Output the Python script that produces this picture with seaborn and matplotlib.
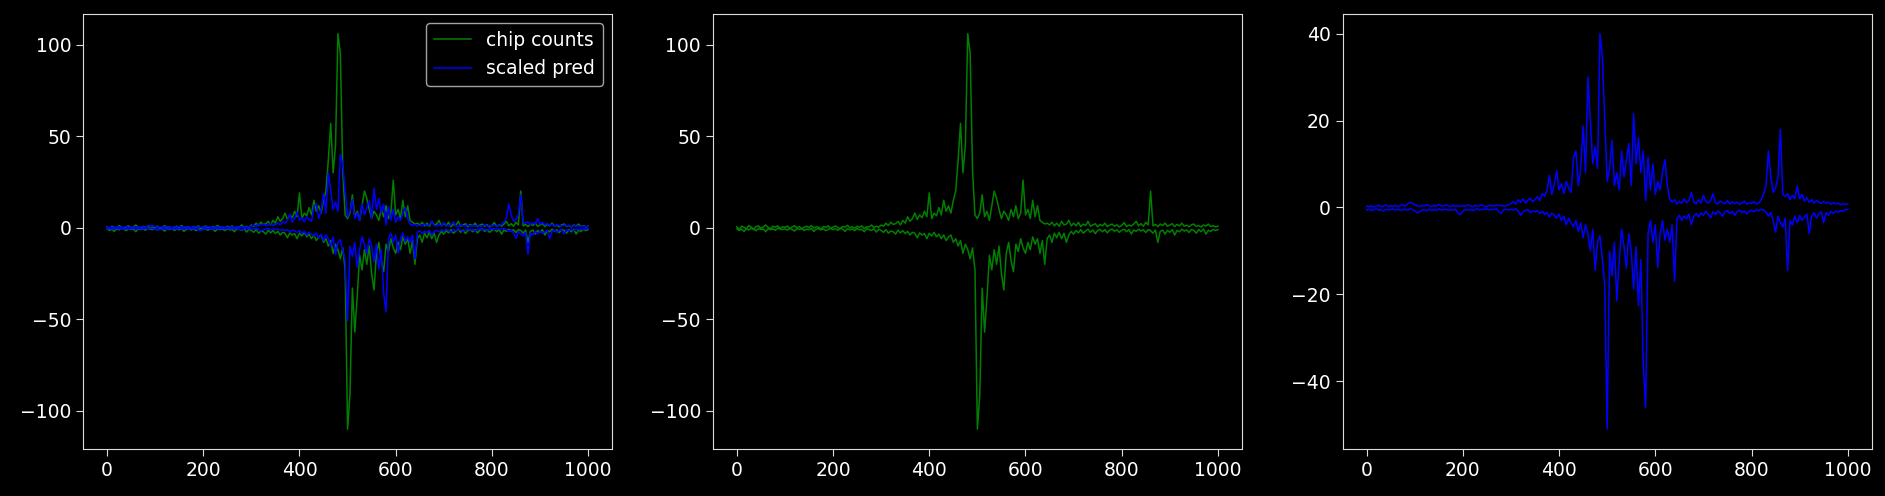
import numpy as np
import pandas as pd
import seaborn as sns
from matplotlib import pyplot as plt

# amostras a cada 5 posicoes (0..1000)
posicao = np.arange(0, 1001, 5)

# contagem dos chips: ramo positivo e ramo negativo
chip_alto = [
    0.5, -1.0, 0.8, 0.2, -0.5, 1.2, 0.3, -0.8, 0.6, 1.0, -0.3, 0.4, 1.5, 0.2, -0.6, 0.8, 0.3, 1.0, -0.4, 0.5,
    0.2, 0.9, -0.5, 0.4, 1.1, 0.0, 0.6, -0.7, 0.3, 0.8, 0.1, 1.2, -0.2, 0.5, 0.3, -0.8, 0.7, 0.2, 1.0, -0.4,
    0.4, 0.9, 0.1, -0.6, 0.7, 0.3, 1.3, 0.0, 0.5, -0.3, 0.8, 0.2, 1.0, -0.5, 0.6, 0.4, 1.5, 0.1, 0.8, 0.3,
    1.5, 0.8, 2.5, 1.2, 3.0, 1.8, 2.2, 3.5, 1.5, 4.0, 2.5, 6.0, 3.5, 5.0, 8.0, 4.5, 7.0, 5.5, 9.0, 6.0,
    19.0, 5.0, 8.0, 6.5, 11.0, 7.0, 15.0, 9.0, 12.0, 8.0, 15.0, 20.0, 37.0, 57.0, 30.0, 45.0, 106.0, 95.0, 31.0, 7.0,
    5.0, 8.0, 18.0, 6.0, 9.0, 4.0, 12.0, 20.0, 16.0, 10.0, 5.0, 9.0, 7.0, 4.0, 10.0, 6.0, 12.0, 5.0, 8.0, 26.0,
    7.0, 10.0, 5.0, 15.0, 6.0, 12.0, 4.0, 3.0, 2.0, 2.5, 1.5, 3.0, 1.0, 2.5, 0.8, 3.5, 1.5, 2.0, 4.0, 1.0,
    2.5, 1.0, 3.0, 0.5, 2.0, 1.2, 3.5, 0.8, 1.5, 2.2, 0.5, 1.8, 1.0, 2.5, 0.6, 1.4, 2.0, 0.8, 1.6, 0.4,
    1.2, 2.8, 0.6, 1.5, 0.9, 2.0, 3.5, 1.0, 2.2, 0.8, 3.0, 1.5, 20.0, 1.0, 1.8, 0.6, 2.0, 1.2, 2.5, 0.8,
    1.5, 2.2, 0.6, 1.8, 1.0, 2.5, 0.8, 1.4, 0.5, 1.6, 2.0, 0.7, 1.2, 0.4, 1.5, 0.9, 2.0, 0.6, 1.1, 0.5, 0.8,
]
chip_baixo = [
    -0.5, -1.5, -0.8, -2.0, -0.6, -1.2, -0.3, -0.9, -1.6, -0.4, -1.0, -0.7, -2.2, -0.5, -1.1, -0.6, -1.4, -0.3, -0.8, -1.0,
    -0.6, -1.3, -0.4, -0.9, -1.8, -0.5, -1.0, -0.3, -1.5, -0.7, -1.1, -0.4, -2.0, -0.8, -0.5, -1.2, -0.6, -1.6, -0.9, -0.4,
    -1.0, -0.6, -1.4, -0.3, -0.8, -2.0, -0.5, -1.1, -0.7, -1.6, -0.4, -1.2, -0.9, -2.2, -0.5, -1.0, -1.5, -0.6, -2.4, -0.8,
    -1.5, -2.5, -1.0, -3.0, -1.8, -2.2, -3.5, -1.4, -2.8, -1.6, -3.2, -2.0, -4.0, -2.5, -3.0, -5.5, -2.8, -4.0, -3.2, -6.0,
    -3.0, -4.5, -2.5, -5.0, -3.5, -6.0, -4.0, -7.0, -5.0, -4.0, -8.0, -6.0, -10.0, -7.0, -14.0, -9.0, -12.0, -17.0, -11.0, -23.0,
    -110.0, -91.0, -33.0, -57.0, -38.0, -15.0, -23.0, -12.0, -20.0, -10.0, -25.0, -34.0, -14.0, -8.0, -18.0, -24.0, -9.0, -13.0, -6.0, -11.0,
    -14.0, -8.0, -12.0, -5.0, -9.0, -6.0, -14.0, -7.0, -20.0, -6.0, -4.0, -8.0, -3.0, -5.5, -2.5, -6.0, -3.0, -8.0, -4.0, -2.0,
    -3.5, -1.5, -2.8, -1.0, -3.0, -1.8, -0.8, -2.5, -1.2, -3.2, -1.5, -0.9, -2.2, -1.0, -2.8, -1.3, -0.7, -2.0, -1.1, -2.5,
    -1.4, -0.8, -2.2, -1.0, -3.5, -1.2, -2.0, -0.8, -1.8, -1.1, -2.6, -1.0, -1.5, -3.0, -1.2, -8.0, -2.0, -1.3, -3.5, -1.5,
    -2.5, -1.0, -4.0, -1.5, -2.2, -0.8, -1.8, -1.2, -2.6, -0.9, -1.5, -3.0, -1.0, -2.2, -0.7, -3.5, -1.4, -2.0, -0.9, -1.6, -1.0,
]

# previsao escalada: ramo positivo e ramo negativo
pred_alto = [
    0.3, 0.2, 0.4, 0.1, 0.3, 0.5, 0.2, 0.3, 0.6, 0.2, 0.4, 0.3, 0.5, 0.2, 0.4, 0.6, 0.3, 0.8, 1.2, 1.0,
    0.6, 0.4, 0.2, 0.5, 0.3, 0.6, 0.4, 0.2, 0.5, 0.3, 0.7, 0.4, 0.3, 0.6, 0.4, 0.2, 0.5, 0.3, 0.4, 0.2,
    0.5, 0.3, 0.6, 0.4, 0.2, 0.5, 0.3, 0.4, 0.6, 0.3, 0.2, 0.5, 0.4, 0.3, 0.6, 0.4, 0.5, 0.3, 0.4, 0.6,
    0.9, 1.4, 0.8, 1.8, 1.2, 2.0, 1.0, 1.6, 2.2, 1.3, 1.8, 2.5, 1.6, 3.2, 2.6, 4.0, 7.4, 3.0, 5.2, 8.5,
    4.0, 5.5, 3.2, 6.0, 4.5, 3.5, 11.6, 13.0, 5.0, 9.0, 18.7, 8.0, 30.0, 20.0, 10.0, 14.0, 9.0, 40.0, 34.7, 20.0,
    6.0, 9.0, 15.5, 5.0, 8.0, 4.0, 13.0, 7.0, 11.0, 14.7, 5.0, 21.6, 10.0, 16.0, 8.0, 13.0, 1.6, 11.6, 4.0, 10.0,
    3.0, 6.0, 4.0, 8.0, 11.0, 5.0, 2.0, 1.2, 1.8, 0.8, 1.4, 1.0, 2.0, 1.1, 1.6, 3.5, 1.2, 0.9, 1.8, 1.0,
    2.8, 1.4, 1.0, 1.6, 3.2, 1.0, 0.8, 1.5, 1.1, 0.9, 1.6, 0.8, 1.3, 0.9, 1.2, 0.7, 1.0, 1.5, 0.8, 1.1,
    0.9, 1.4, 0.8, 1.0, 1.8, 3.0, 5.0, 13.0, 7.0, 3.5, 4.5, 7.0, 18.0, 3.0, 2.5, 3.2, 1.8, 2.8, 2.0, 5.0,
    2.0, 3.0, 1.5, 2.3, 1.2, 1.8, 1.0, 1.6, 1.2, 0.9, 1.4, 1.0, 1.2, 0.7, 1.1, 0.8, 1.0, 0.6, 0.9, 0.7, 0.8,
]
pred_baixo = [
    -0.6, -0.4, -0.7, -0.5, -0.3, -0.6, -0.5, -0.8, -0.4, -0.6, -0.5, -0.3, -0.6, -0.4, -0.7, -0.5, -0.4, -0.6, -0.3, -0.5,
    -0.7, -1.2, -1.0, -0.6, -0.5, -0.8, -0.4, -0.6, -0.5, -0.7, -0.3, -0.6, -0.5, -0.4, -0.7, -0.5, -0.6, -0.4, -1.4, -1.6,
    -0.8, -0.5, -0.6, -0.4, -0.7, -0.5, -0.3, -0.6, -0.4, -0.5, -0.3, -0.6, -0.4, -0.5, -0.3, -1.0, -1.3, -0.5, -0.4, -0.6,
    -0.4, -0.6, -0.3, -0.8, -1.8, -1.0, -0.7, -0.5, -1.2, -0.8, -1.0, -0.7, -1.4, -0.9, -1.6, -1.1, -2.2, -1.3, -1.8, -2.5,
    -1.5, -3.0, -2.0, -4.0, -2.5, -3.5, -4.5, -3.0, -5.5, -3.5, -7.0, -4.0, -6.0, -10.0, -5.0, -14.5, -8.0, -6.5, -12.0, -18.0,
    -51.0, -10.0, -15.7, -8.0, -21.5, -12.0, -5.0, -9.0, -14.0, -6.0, -10.0, -18.8, -9.0, -22.6, -12.0, -36.0, -46.0, -6.0, -3.0, -8.0,
    -4.0, -13.8, -6.0, -3.0, -7.5, -5.0, -8.0, -4.0, -17.0, -2.5, -1.8, -3.0, -2.0, -2.6, -1.5, -4.0, -2.0, -1.4, -2.2, -1.2,
    -1.8, -0.9, -1.5, -2.4, -1.0, -1.6, -0.8, -1.3, -2.0, -1.0, -0.7, -1.4, -0.9, -1.8, -1.0, -0.6, -1.2, -0.8, -1.5, -0.9,
    -0.6, -1.0, -0.5, -0.8, -0.4, -0.6, -1.0, -2.0, -1.2, -3.0, -5.7, -2.0, -3.5, -4.5, -2.5, -14.5, -3.0, -4.0, -2.0, -3.5,
    -1.8, -3.0, -2.2, -1.5, -6.0, -2.0, -1.2, -2.5, -1.5, -1.0, -3.5, -1.2, -1.8, -0.9, -1.4, -0.8, -1.1, -0.7, -0.9, -0.5, -0.5,
]

df = pd.DataFrame({'pos': posicao, 'chip_alto': chip_alto, 'chip_baixo': chip_baixo,
                   'pred_alto': pred_alto, 'pred_baixo': pred_baixo})

plt.style.use('dark_background')
plt.rcParams['font.size'] = 13.5
plt.rcParams['xtick.major.size'] = 5
plt.rcParams['ytick.major.size'] = 5

fig, axes = plt.subplots(1, 3, figsize=(18.85, 4.96), dpi=100)
fig.subplots_adjust(left=0.044, right=0.993, bottom=0.095, top=0.972, wspace=0.19)

lw = 1.1

# painel 1: as duas series juntas
ax = axes[0]
sns.lineplot(data=df, x='pos', y='chip_alto', color='green', lw=lw, label='chip counts', ax=ax)
sns.lineplot(data=df, x='pos', y='chip_baixo', color='green', lw=lw, ax=ax)
sns.lineplot(data=df, x='pos', y='pred_alto', color='blue', lw=lw, label='scaled pred', ax=ax)
sns.lineplot(data=df, x='pos', y='pred_baixo', color='blue', lw=lw, ax=ax)
ax.legend(loc='upper right')

# painel 2: so os chips
ax = axes[1]
sns.lineplot(data=df, x='pos', y='chip_alto', color='green', lw=lw, ax=ax)
sns.lineplot(data=df, x='pos', y='chip_baixo', color='green', lw=lw, ax=ax)

# painel 3: so a previsao
ax = axes[2]
sns.lineplot(data=df, x='pos', y='pred_alto', color='blue', lw=lw, ax=ax)
sns.lineplot(data=df, x='pos', y='pred_baixo', color='blue', lw=lw, ax=ax)

for ax in axes:
    ax.set_xlabel('')
    ax.set_ylabel('')
    ax.set_xticks([0, 200, 400, 600, 800, 1000])
    for s in ax.spines.values():
        s.set_color('#dddddd')
    ax.tick_params(colors='#dddddd', labelcolor='white')

axes[0].set_yticks([-100, -50, 0, 50, 100])
axes[1].set_yticks([-100, -50, 0, 50, 100])
axes[2].set_yticks([-40, -20, 0, 20, 40])

plt.savefig('out.png')
